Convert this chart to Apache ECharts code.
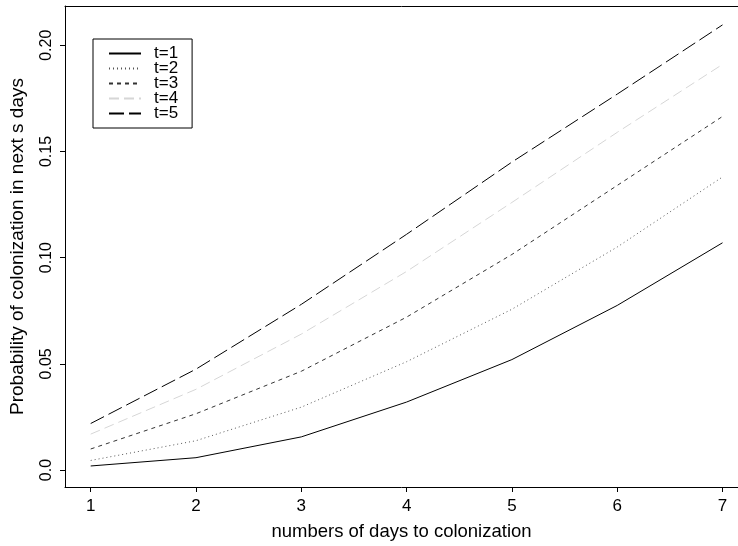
<!DOCTYPE html>
<html>
<head>
<meta charset="utf-8">
<script src="https://cdn.jsdelivr.net/npm/echarts@6/dist/echarts.min.js"></script>
<style>
  html, body { margin: 0; padding: 0; background: #fff; }
  #main { width: 738px; height: 546px; }
</style>
</head>
<body>
<div id="main"></div>
<script>
var days = [1, 2, 3, 4, 5, 6, 7];
var t1 = [0.0019, 0.0058, 0.0156, 0.0320, 0.0520, 0.0775, 0.1070];
var t2 = [0.0045, 0.0138, 0.0296, 0.0510, 0.0757, 0.1050, 0.1380];
var t3 = [0.0099, 0.0265, 0.0465, 0.0720, 0.1015, 0.1340, 0.1665];
var t4 = [0.0169, 0.0380, 0.0640, 0.0935, 0.1260, 0.1590, 0.1910];
var t5 = [0.0219, 0.0475, 0.0780, 0.1110, 0.1450, 0.1770, 0.2096];
var yTicks = [0, 0.05, 0.1, 0.15, 0.2];

function pairs(vals) {
    return days.map(function (d, i) { return [d, vals[i]]; });
}
function mk(name, vals, color, dash) {
    return {
        name: name,
        type: 'line',
        data: pairs(vals),
        symbol: 'none',
        silent: true,
        lineStyle: { color: color, width: 1, type: dash },
        itemStyle: { color: color }
    };
}

var myChart = echarts.init(document.getElementById('main'));
// box is cut off on the right in the original, so only left/bottom/top lines
var option = {
    animation: false,
    textStyle: { fontFamily: 'Liberation Sans, Arial, sans-serif', color: '#000' },
    grid: { left: 65, right: 0, top: 6, bottom: 58 },
    legend: {
        orient: 'vertical',
        left: 93, top: 39,
        padding: [6, 14, 6, 15],
        borderColor: '#000', borderWidth: 1,
        itemWidth: 32, itemHeight: 14, itemGap: -2,
        selectedMode: false,
        itemStyle: { opacity: 0 },
        textStyle: { fontSize: 17, color: '#000', padding: [0, 0, 0, 8] },
        data: ['t=1', 't=2', 't=3', 't=4', 't=5']
    },
    xAxis: [{
        type: 'value',
        min: 0.756, max: 7.147,
        name: 'numbers of days to colonization',
        nameLocation: 'middle', nameGap: 35,
        nameTextStyle: { fontSize: 18.5, color: '#000' },
        axisLine: { show: true, onZero: false, lineStyle: { color: '#000', width: 1 } },
        axisTick: { show: true, length: 5, lineStyle: { color: '#000' }, customValues: days },
        axisLabel: { fontSize: 17, color: '#000', margin: 11, customValues: days },
        splitLine: { show: false }
    }, {
        type: 'value',
        position: 'top',
        min: 0.756, max: 7.147,
        axisLine: { show: true, onZero: false, lineStyle: { color: '#000', width: 1 } },
        axisTick: { show: false },
        axisLabel: { show: false },
        splitLine: { show: false }
    }],
    yAxis: {
        type: 'value',
        min: -0.008, max: 0.2185,
        name: 'Probability of colonization in next s days',
        nameLocation: 'middle', nameGap: 38,
        nameTextStyle: { fontSize: 19, color: '#000' },
        axisLine: { show: true, onZero: false, lineStyle: { color: '#000', width: 1 } },
        axisTick: { show: true, length: 5, lineStyle: { color: '#000' }, customValues: yTicks },
        axisLabel: {
            fontSize: 16, color: '#000', margin: 10, rotate: 90,
            customValues: yTicks,
            formatter: function (v) { return v === 0 ? '0.0' : v.toFixed(2); }
        },
        splitLine: { show: false }
    },
    series: [
        mk('t=1', t1, '#000000', 'solid'),
        mk('t=2', t2, '#555555', [1, 3]),
        mk('t=3', t3, '#333333', [4, 4]),
        mk('t=4', t4, '#d6d6d6', [10, 5]),
        mk('t=5', t5, '#000000', [15, 5])
    ]
};
myChart.setOption(option);
</script>
</body>
</html>
